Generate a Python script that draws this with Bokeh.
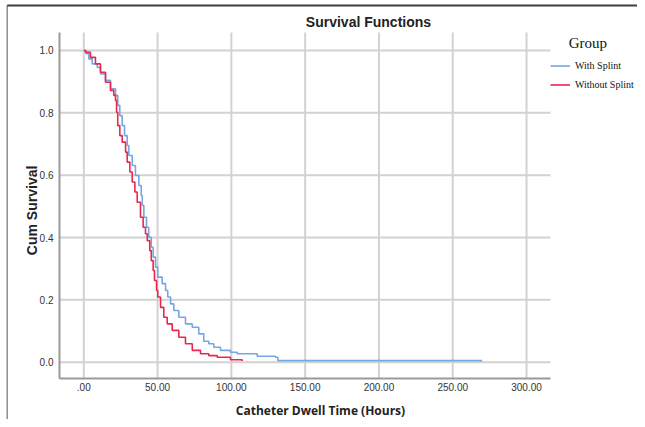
import math
from bokeh.plotting import figure
from bokeh.models import Range1d, FixedTicker, Legend, LegendItem, Label
from bokeh.embed import file_html
from bokeh.resources import INLINE

# ---- data ----
with_splint_t = [0, 1.5, 3.4, 5.7, 9.1, 11.3, 14.7, 18.1, 21.5, 23.0, 24.4, 26.0, 27.6, 29.4, 30.5,
                 32.8, 35.0, 37.3, 38.9, 39.6, 40.7, 42.5, 44.0, 45.7, 47.0, 48.6, 50.1, 53.1, 55.4,
                 56.9, 58.8, 61.0, 64.4, 68.9, 73.5, 77.9, 81.3, 84.7, 88.1, 92.6, 99.4, 103.9,
                 117.5, 129.9, 131.5, 270.0]
with_splint_s = [1.0, 0.990, 0.973, 0.957, 0.946, 0.925, 0.904, 0.877, 0.856, 0.824, 0.791, 0.759,
                 0.727, 0.695, 0.663, 0.631, 0.599, 0.567, 0.535, 0.503, 0.465, 0.433, 0.401, 0.369,
                 0.337, 0.305, 0.273, 0.252, 0.230, 0.209, 0.187, 0.166, 0.144, 0.123, 0.112, 0.091,
                 0.067, 0.059, 0.048, 0.038, 0.032, 0.027, 0.019, 0.016, 0.005, 0.005]

without_splint_t = [0, 1.2, 4.5, 7.9, 11.3, 14.7, 18.1, 20.3, 21.5, 22.2, 23.0, 24.4, 26.0, 28.3,
                    29.4, 31.2, 32.8, 34.6, 36.2, 38.4, 40.2, 41.8, 43.0, 44.7, 45.7, 47.0, 47.9,
                    49.3, 50.1, 52.0, 54.2, 56.5, 59.9, 64.4, 68.9, 73.5, 79.1, 84.7, 90.4, 99.4, 107.3]
without_splint_s = [1.0, 0.994, 0.978, 0.957, 0.930, 0.898, 0.872, 0.856, 0.840, 0.802, 0.759,
                    0.727, 0.706, 0.674, 0.642, 0.610, 0.578, 0.546, 0.513, 0.465, 0.433, 0.412,
                    0.390, 0.358, 0.326, 0.294, 0.262, 0.230, 0.209, 0.176, 0.144, 0.123, 0.102,
                    0.080, 0.059, 0.038, 0.027, 0.021, 0.016, 0.008, 0.004]

x_ticks = [0, 50, 100, 150, 200, 250, 300]
x_tick_labels = [".00", "50.00", "100.00", "150.00", "200.00", "250.00", "300.00"]
y_ticks = [0.0, 0.2, 0.4, 0.6, 0.8, 1.0]
y_tick_labels = ["0.0", "0.2", "0.4", "0.6", "0.8", "1.0"]

series_names = ["With Splint", "Without Splint"]
series_colors = ["#74A8E2", "#E8284C"]

title_text = "Survival Functions"
x_label_text = "Catheter Dwell Time (Hours)"
y_label_text = "Cum Survival"
legend_title = "Group"

# plot-area extent (data units) inside the whole canvas
X_LO, X_HI = -16.47, 316.3
Y_LO, Y_HI = -0.052, 1.0577

W, H = 637, 419

# ---- figure: the frame fills the whole canvas ----
p = figure(width=W, height=H, output_backend="svg", toolbar_location=None,
           x_range=Range1d(-56.45, (W - 83.3) / 1.4757),
           y_range=Range1d((361.7 - H) / 311.7, 1.1604),
           min_border=0)
p.outline_line_color = None
p.background_fill_color = "white"
p.border_fill_color = "white"
p.grid.visible = False

# picture border (left and top edges)
p.segment(x0=[-51.9], x1=[-51.9], y0=[1.1444], y1=[-1.0], line_color="#8c8c8c", line_width=1.5)
p.segment(x0=[-51.9], x1=[400.0], y0=[1.1444], y1=[1.1444], line_color="#3c3c3c", line_width=2)

# grid lines, bounded to the plot area
p.segment(x0=x_ticks, x1=x_ticks, y0=[Y_LO] * len(x_ticks), y1=[Y_HI] * len(x_ticks),
          line_color="#d2d2d2", line_width=2)
p.segment(x0=[X_LO] * len(y_ticks), x1=[X_HI] * len(y_ticks), y0=y_ticks, y1=y_ticks,
          line_color="#d2d2d2", line_width=2)

# axes at fixed locations
p.xaxis.fixed_location = Y_LO
p.xaxis.bounds = (X_LO, X_HI)
p.yaxis.fixed_location = X_LO
p.yaxis.bounds = (Y_LO, Y_HI)
for ax in (p.xaxis[0], p.yaxis[0]):
    ax.axis_line_color = "#9a9a9a"
    ax.axis_line_width = 2
    ax.major_tick_line_color = None
    ax.minor_tick_line_color = None
    ax.major_tick_out = 0
    ax.major_tick_in = 0
    ax.minor_tick_out = 0
    ax.minor_tick_in = 0
    ax.major_label_text_font = "Liberation Sans"
    ax.major_label_text_font_size = "10px"
    ax.major_label_text_color = "#333333"

p.xaxis.ticker = FixedTicker(ticks=x_ticks)
p.xaxis.major_label_overrides = {t: l for t, l in zip(x_ticks, x_tick_labels)}
p.xaxis.major_label_standoff = 5
p.yaxis.ticker = FixedTicker(ticks=y_ticks)
p.yaxis.major_label_overrides = {t: l for t, l in zip(y_ticks, y_tick_labels)}
p.yaxis.major_label_standoff = 6

# texts
p.add_layout(Label(x=192.9, y=1.0908, text=title_text, text_align="center",
                   text_baseline="middle", text_font="Liberation Sans",
                   text_font_size="14px", text_font_style="bold", text_color="#222222"))
p.add_layout(Label(x=160.4, y=-0.155, text=x_label_text, text_align="center",
                   text_baseline="middle", text_font="Open Sans",
                   text_font_size="12px", text_font_style="bold", text_color="#222222"))
p.add_layout(Label(x=-34.8, y=0.487, text=y_label_text, text_align="center",
                   text_baseline="middle", angle=math.pi / 2, text_font="Liberation Sans",
                   text_font_size="14px", text_font_style="bold", text_color="#222222"))

# curves
r_with = p.step(with_splint_t, with_splint_s, mode="after",
                line_color=series_colors[0], line_width=1.6)
r_without = p.step(without_splint_t, without_splint_s, mode="after",
                   line_color=series_colors[1], line_width=1.6)

legend = Legend(items=[LegendItem(label=series_names[0], renderers=[r_with]),
                       LegendItem(label=series_names[1], renderers=[r_without])],
                title="\u00a0" * 5 + legend_title, location=(550, H - 93))
legend.margin = 0
legend.padding = 2
legend.border_line_color = None
legend.background_fill_color = None
legend.title_text_font = "Liberation Serif"
legend.title_text_font_size = "15px"
legend.title_text_font_style = "normal"
legend.title_text_color = "#111111"
legend.title_standoff = 5
legend.label_text_font = "Liberation Serif"
legend.label_text_font_size = "10px"
legend.label_text_color = "#111111"
legend.glyph_width = 20
legend.glyph_height = 17
legend.label_height = 17
legend.spacing = 2
legend.label_standoff = 5
p.add_layout(legend)

open("out.html", "w").write(file_html(p, INLINE))
